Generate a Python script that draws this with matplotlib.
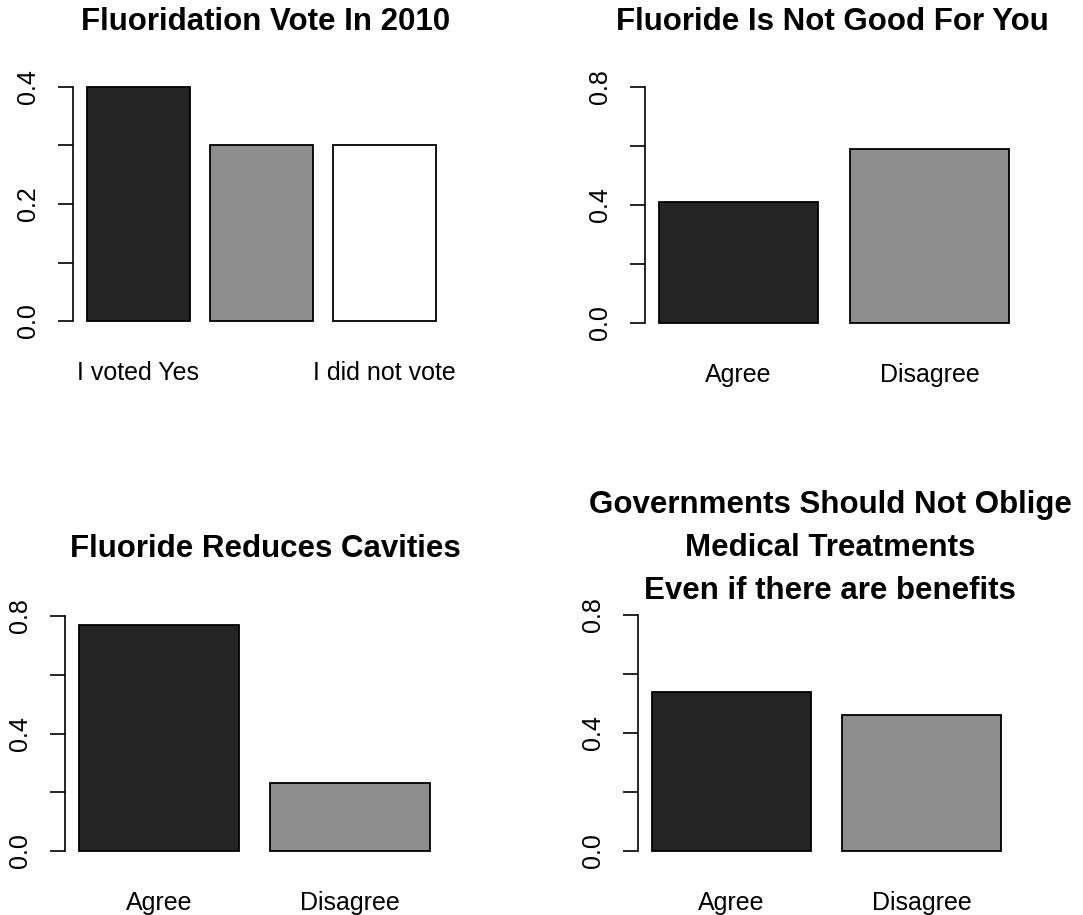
import matplotlib.pyplot as plt
import numpy as np

plt.rcParams['font.family'] = ['Liberation Sans', 'DejaVu Sans']

# data
vote_labels = ["I voted Yes", "", "I did not vote"]
vote_values = [0.40, 0.30, 0.30]

good_labels = ["Agree", "Disagree"]
good_values = [0.41, 0.59]

cavity_labels = ["Agree", "Disagree"]
cavity_values = [0.77, 0.23]

oblige_labels = ["Agree", "Disagree"]
oblige_values = [0.54, 0.46]

oblige_title = ["Governments Should Not Oblige", "Medical Treatments", "Even if there are benefits"]

bar_colors = ["#242424", "#8e8e8e", "#ffffff"]

W, H = 1083, 915
fig = plt.figure(figsize=(W / 100, H / 100), dpi=100)


def px_axes(left, right, top, bottom):
    return fig.add_axes([left / W, 1 - bottom / H, (right - left) / W, (bottom - top) / H])


def draw_panel(ax, values, labels, top):
    n = len(values)
    x = 0.7 + 1.2 * np.arange(n)
    ax.bar(x, values, width=1.0, color=bar_colors[:n], edgecolor="black", linewidth=1.3)
    lo, hi = 0.2, 0.2 + 1.2 * (n - 1) + 1
    pad = 0.04 * (hi - lo)
    ax.set_xlim(lo - pad, hi + pad)
    ax.set_ylim(-0.04 * top, 1.04 * top)
    for s in ["top", "right", "bottom"]:
        ax.spines[s].set_visible(False)
    ax.spines["left"].set_bounds(0, top)
    ax.spines["left"].set_linewidth(1.2)
    ax.set_yticks([0, top / 2, top])
    ax.set_yticklabels([f"{v:.1f}" for v in [0, top / 2, top]], rotation=90, va="center")
    ax.set_yticks([top / 4, 3 * top / 4], minor=True)
    ax.tick_params(axis="y", which="both", length=11, width=1.2, pad=13, labelsize=18)
    ax.set_xticks(x)
    ax.set_xticklabels(labels, fontsize=18)
    ax.tick_params(axis="x", length=0, pad=22)


ax1 = px_axes(73, 450, 77.6, 330.4)
draw_panel(ax1, vote_values, vote_labels, 0.4)

ax2 = px_axes(645, 1023, 77.6, 332.4)
draw_panel(ax2, good_values, good_labels, 0.8)

ax3 = px_axes(65, 444, 606.6, 860.4)
draw_panel(ax3, cavity_values, cavity_labels, 0.8)

ax4 = px_axes(638, 1015, 605.6, 860.4)
draw_panel(ax4, oblige_values, oblige_labels, 0.8)

title_kw = dict(fontsize=22.5, fontweight="bold", ha="center", va="center")
fig.text(266 / W, 1 - 22 / H, "Fluoridation Vote In 2010", **title_kw)
fig.text(832 / W, 1 - 22 / H, "Fluoride Is Not Good For You", **title_kw)
fig.text(265 / W, 1 - 549 / H, "Fluoride Reduces Cavities", **title_kw)
for i, line in enumerate(oblige_title):
    fig.text(830 / W, 1 - (505 + 43 * i) / H, line, **title_kw)

fig.savefig("out.png", dpi=100)
